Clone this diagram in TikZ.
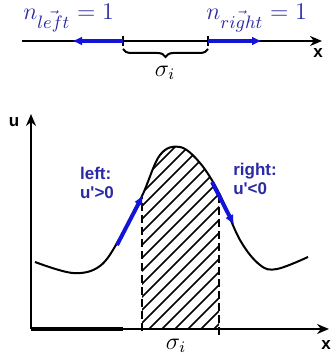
\documentclass[tikz,border=0pt]{standalone}
\usepackage{amsmath}
\usepackage{fontspec}
\usepackage{tikz}
\usetikzlibrary{arrows.meta, decorations.pathreplacing}
\newfontfamily\labelfont{Liberation Sans}
\definecolor{ArrowBlue}{HTML}{1414D8}
\definecolor{TextBlue}{HTML}{2A2AA6}

\begin{document}
\begin{tikzpicture}[
    x=0.5pt, y=0.5pt,
    axisline/.style={draw=black, line width=1pt, -{Stealth[length=6pt, width=5pt]}},
    bigaxis/.style={draw=black, line width=1.4pt, -{Stealth[length=6pt, width=5pt]}},
    normal/.style={draw=ArrowBlue, line width=2pt, -{Latex[length=5pt, width=4.5pt]}},
    tick/.style={draw=black, line width=1.1pt},
    bound/.style={draw=black, line width=0.9pt, dash pattern=on 4pt off 2pt},
    hatch/.style={draw=black, line width=0.8pt},
    curve/.style={draw=black, line width=1pt},
    mathlbl/.style={text=TextBlue, font=\fontsize{13}{15}\selectfont, inner sep=0pt},
    sidelbl/.style={text=TextBlue, font=\labelfont\bfseries\fontsize{8.5}{9.5}\selectfont, align=left},
    axislbl/.style={text=black, font=\labelfont\bfseries\fontsize{8.5}{9.5}\selectfont}
]
\useasboundingbox (0,0) rectangle (331,356);

% top: one cell on the x line
\coordinate (lineL) at (22,315);
\coordinate (lineR) at (322,315);
\coordinate (faceL) at (123,315);
\coordinate (faceR) at (208,315);
\coordinate (tipL) at (72,315);
\coordinate (tipR) at (262,315);
\draw[axisline] (lineL) -- (lineR);
\draw[tick] ([yshift=2.5pt]faceL) -- ([yshift=-2.5pt]faceL);
\draw[tick] ([yshift=2.5pt]faceR) -- ([yshift=-2.5pt]faceR);
\draw[normal] (faceL) -- (tipL);
\draw[normal] (faceR) -- (tipR);
\node[mathlbl, anchor=west] (nleft) at (23,338) {$n_{\vec{left}} = 1$};
\node[mathlbl, anchor=west] (nright) at (206,338) {$n_{\vec{right}} = 1$};
\node[axislbl] (xtop) at (318,303) {x};
\draw[line width=1pt, decorate, decoration={brace, mirror, amplitude=4pt}]
    ([yshift=-4pt]faceL) -- ([yshift=-4pt]faceR);
\node[font=\large] (sigtop) at (165,283) {$\sigma_i$};

% bottom: u over x
\coordinate (orig) at (31,27);
\coordinate (utip) at (31,242);
\coordinate (xtip) at (329,27);
\draw[bigaxis] (orig) -- (utip);
\draw[axisline] (orig) -- (xtip);
\draw[line width=2pt] (orig) -- (123,27);
\node[axislbl] (ulbl) at (14,234) {u};
\node[axislbl] (xlbl) at (326,11) {x};
\node[font=\large] (sigbot) at (176,10) {$\sigma_i$};

% hatched cell under the curve
\begin{scope}
  \clip (142,27) rectangle (219,215);
  \clip plot[smooth, tension=0.6] coordinates {(35,94) (73,83) (100,90) (120,118) (142,160) (160,201) (180,209) (200,193) (219,163) (240,116) (260,91) (277,87) (308,99)}
      -- (308,27) -- (35,27) -- cycle;
  \foreach \s in {-46,-33,...,220}
    \draw[hatch] (\s,27) -- ++(220,220);
\end{scope}

\draw[curve] plot[smooth, tension=0.6] coordinates {(35,94) (73,83) (100,90) (120,118) (142,160) (160,201) (180,209) (200,193) (219,163) (240,116) (260,91) (277,87) (308,99)};

\coordinate (cellL) at (142,160);
\coordinate (cellR) at (219,163);
\draw[bound] (142,25) -- (cellL);
\draw[bound] (219,21) -- (cellR);

\draw[normal] (117,111) -- (143,161);
\draw[normal] (212,174) -- (234,131);
\node[sidelbl] (leftlbl) at (97,173) {left:\\u'>0};
\node[sidelbl] (rightlbl) at (255,177) {right:\\u'<0};
\end{tikzpicture}
\end{document}
